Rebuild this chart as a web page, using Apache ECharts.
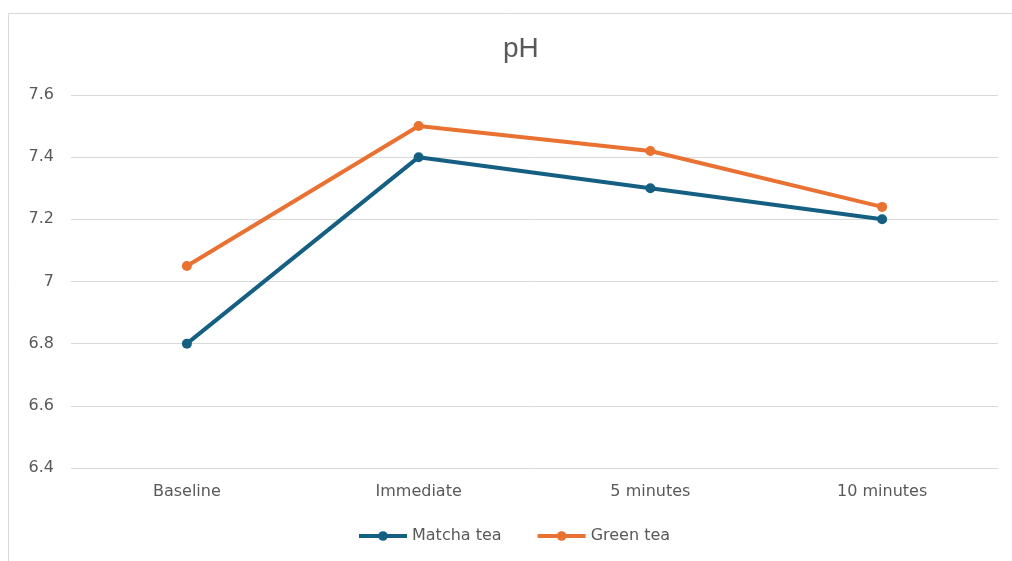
<!DOCTYPE html>
<html><head><meta charset="utf-8">
<script src="https://cdn.jsdelivr.net/npm/echarts@6/dist/echarts.min.js"></script>
<style>html,body{margin:0;padding:0;background:#fff;}#c{width:1012px;height:561px;}</style>
</head><body><div id="c"></div>
<script>
const categories = ['Baseline', 'Immediate', '5 minutes', '10 minutes'];
const matcha = [6.8, 7.4, 7.3, 7.2];
const greenTea = [7.05, 7.5, 7.42, 7.24];
const yTicks = { min: 6.4, max: 7.6, interval: 0.2 };

const chart = echarts.init(document.getElementById('c'), null, { renderer: 'canvas' });
const font = 'DejaVu Sans, Verdana, sans-serif';
chart.setOption({
  animation: false,
  backgroundColor: '#fff',
  graphic: [{
    type: 'rect', left: 8, top: 13, z: -10,
    shape: { width: 1010, height: 560 },
    style: { fill: '#fff', stroke: '#d9d9d9', lineWidth: 1 }
  }],
  title: {
    text: 'pH', left: 498, top: 30,
    textStyle: { fontFamily: 'Liberation Sans, Arial, sans-serif', fontSize: 28, fontWeight: 'normal', color: '#595959' }
  },
  grid: { left: 71, right: 14, top: 95, bottom: 93, containLabel: false },
  legend: {
    bottom: 12, left: 352, itemWidth: 48, itemHeight: 12, itemGap: 34,
    lineStyle: { width: 4 },
    textStyle: { fontFamily: font, fontSize: 16, color: '#595959' },
    data: ['Matcha tea', 'Green tea']
  },
  xAxis: {
    type: 'category', data: categories, boundaryGap: true,
    axisLine: { show: false }, axisTick: { show: false },
    axisLabel: { fontFamily: font, fontSize: 16, color: '#595959', margin: 16 }
  },
  yAxis: {
    type: 'value', min: yTicks.min, max: yTicks.max, interval: yTicks.interval,
    axisLine: { show: false }, axisTick: { show: false },
    splitLine: { lineStyle: { color: '#d9d9d9', width: 1 } },
    axisLabel: { fontFamily: font, fontSize: 16, color: '#595959', margin: 17,
      formatter: v => String(parseFloat(v.toFixed(1))) }
  },
  series: [
    { name: 'Matcha tea', type: 'line', data: matcha, symbol: 'circle', symbolSize: 10,
      lineStyle: { color: '#156082', width: 4 }, itemStyle: { color: '#156082' } },
    { name: 'Green tea', type: 'line', data: greenTea, symbol: 'circle', symbolSize: 10,
      lineStyle: { color: '#E97132', width: 4 }, itemStyle: { color: '#E97132' } }
  ]
});
</script></body></html>
